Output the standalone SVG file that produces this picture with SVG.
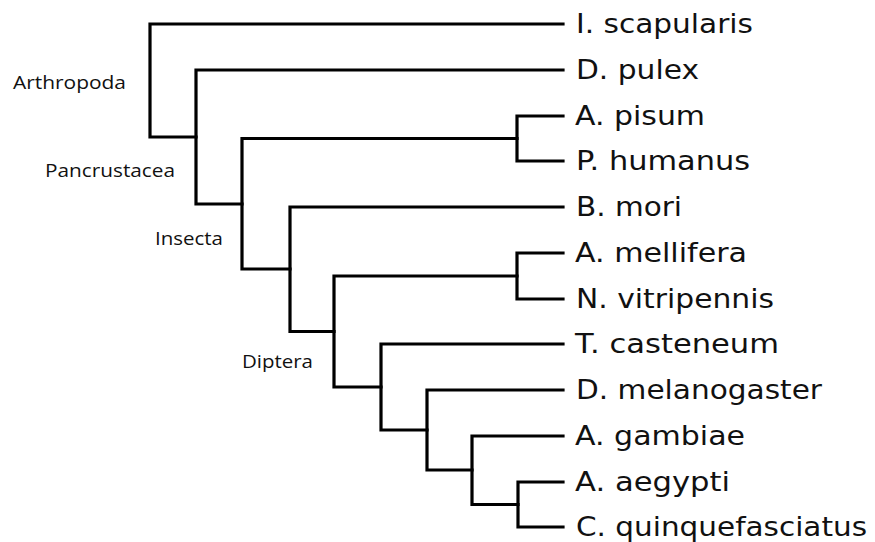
<svg xmlns="http://www.w3.org/2000/svg" width="875" height="542" viewBox="0 0 875 542">
<style>
.br{fill:none;stroke:#000;stroke-width:3.2;stroke-linejoin:miter;stroke-linecap:square}
.leaf{font-family:"DejaVu Sans",Verdana,sans-serif;font-size:26px;fill:#111}
.clade{font-family:"Open Sans","Noto Sans",sans-serif;font-size:18.5px;fill:#111}
</style>
<rect width="875" height="542" fill="#fff"/>
<g id="connectors">
<path class="br" d="M563,24 H150 V137 H196"/>
<path class="br" d="M563,70 H196 V204 H242"/>
<path class="br" d="M517,138.5 H242 V269 H290"/>
<path class="br" d="M563,116 H517 V161 H563"/>
<path class="br" d="M563,207 H290 V331.5 H334"/>
<path class="br" d="M517,276 H334 V387 H381"/>
<path class="br" d="M563,253 H517 V299 H563"/>
<path class="br" d="M563,344 H381 V430 H427"/>
<path class="br" d="M563,390 H427 V470 H472"/>
<path class="br" d="M563,436 H472 V504.5 H518"/>
<path class="br" d="M563,482 H518 V527 H563"/>
</g>
<g id="leaf-iscapularis"><text class="leaf" x="576" y="33" textLength="177" lengthAdjust="spacingAndGlyphs">I. scapularis</text></g>
<g id="leaf-dpulex"><text class="leaf" x="576" y="79" textLength="123" lengthAdjust="spacingAndGlyphs">D. pulex</text></g>
<g id="leaf-apisum"><text class="leaf" x="575" y="125" textLength="130" lengthAdjust="spacingAndGlyphs">A. pisum</text></g>
<g id="leaf-phumanus"><text class="leaf" x="576" y="170" textLength="174" lengthAdjust="spacingAndGlyphs">P. humanus</text></g>
<g id="leaf-bmori"><text class="leaf" x="576" y="216" textLength="106" lengthAdjust="spacingAndGlyphs">B. mori</text></g>
<g id="leaf-amellifera"><text class="leaf" x="575" y="262" textLength="172" lengthAdjust="spacingAndGlyphs">A. mellifera</text></g>
<g id="leaf-nvitripennis"><text class="leaf" x="576" y="308" textLength="198" lengthAdjust="spacingAndGlyphs">N. vitripennis</text></g>
<g id="leaf-tcasteneum"><text class="leaf" x="575" y="353" textLength="204" lengthAdjust="spacingAndGlyphs">T. casteneum</text></g>
<g id="leaf-dmelanogaster"><text class="leaf" x="576" y="399" textLength="246" lengthAdjust="spacingAndGlyphs">D. melanogaster</text></g>
<g id="leaf-agambiae"><text class="leaf" x="575" y="445" textLength="170" lengthAdjust="spacingAndGlyphs">A. gambiae</text></g>
<g id="leaf-aaegypti"><text class="leaf" x="575" y="491" textLength="155" lengthAdjust="spacingAndGlyphs">A. aegypti</text></g>
<g id="leaf-cquinquefasciatus"><text class="leaf" x="576" y="536" textLength="291" lengthAdjust="spacingAndGlyphs">C. quinquefasciatus</text></g>
<g id="clade-arthropoda"><text class="clade" x="13" y="89" textLength="113" lengthAdjust="spacingAndGlyphs">Arthropoda</text></g>
<g id="clade-pancrustacea"><text class="clade" x="45" y="177" textLength="130" lengthAdjust="spacingAndGlyphs">Pancrustacea</text></g>
<g id="clade-insecta"><text class="clade" x="155" y="245" textLength="68" lengthAdjust="spacingAndGlyphs">Insecta</text></g>
<g id="clade-diptera"><text class="clade" x="242" y="368" textLength="71" lengthAdjust="spacingAndGlyphs">Diptera</text></g>
</svg>
